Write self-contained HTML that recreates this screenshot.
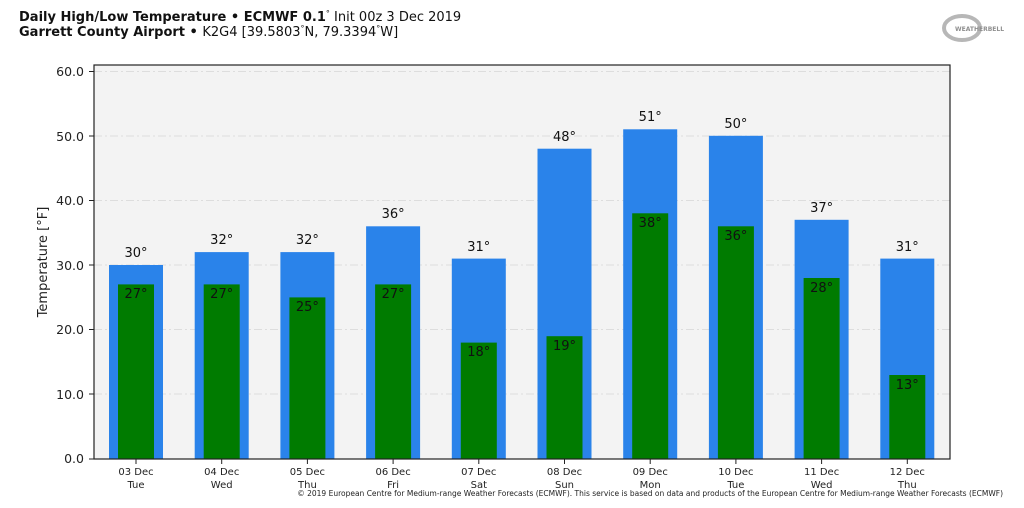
<!DOCTYPE html>
<html><head><style>body{margin:0;background:#fff}svg{display:block;font-family:"DejaVu Sans","Liberation Sans",sans-serif}</style></head><body>
<svg width="1024" height="508" viewBox="0 0 1024 508" xmlns="http://www.w3.org/2000/svg">
<text x="19" y="21" font-size="13" fill="#111"><tspan font-weight="bold">Daily High/Low Temperature • ECMWF 0.1</tspan><tspan font-size="8" dy="-5">°</tspan><tspan dy="5"> Init 00z 3 Dec 2019</tspan></text>
<text x="19" y="36" font-size="13" fill="#111"><tspan font-weight="bold">Garrett County Airport • </tspan>K2G4 [39.5803<tspan font-size="8" dy="-5">°</tspan><tspan dy="5">N, 79.3394</tspan><tspan font-size="8" dy="-5">°</tspan><tspan dy="5">W]</tspan></text>
<g opacity="0.6"><ellipse cx="962" cy="28" rx="18" ry="12" fill="none" stroke="#888" stroke-width="4"/><text x="955" y="31" font-size="6" fill="#444" font-weight="bold">WEATHERBELL</text></g>
<rect x="94" y="65" width="856" height="394" fill="#f3f3f3"/>
<g stroke="#ddd" stroke-dasharray="8,3,2,3" stroke-width="1">
<line x1="94" x2="950" y1="71.5" y2="71.5"/><line x1="94" x2="950" y1="136" y2="136"/><line x1="94" x2="950" y1="200.5" y2="200.5"/><line x1="94" x2="950" y1="265" y2="265"/><line x1="94" x2="950" y1="329.5" y2="329.5"/><line x1="94" x2="950" y1="394" y2="394"/></g>
<g fill="#2a83ea">
<rect x="109" y="265" width="54" height="194"/>
<rect x="194.7" y="252.1" width="54" height="206.9"/>
<rect x="280.4" y="252.1" width="54" height="206.9"/>
<rect x="366.1" y="226.3" width="54" height="232.7"/>
<rect x="451.8" y="258.6" width="54" height="200.4"/>
<rect x="537.5" y="148.7" width="54" height="310.3"/>
<rect x="623.2" y="129.3" width="54" height="329.7"/>
<rect x="708.9" y="135.8" width="54" height="323.2"/>
<rect x="794.6" y="219.8" width="54" height="239.2"/>
<rect x="880.3" y="258.6" width="54" height="200.4"/>
</g>
<g fill="#007b00">
<rect x="118" y="284.4" width="36" height="174.6"/>
<rect x="203.7" y="284.4" width="36" height="174.6"/>
<rect x="289.4" y="297.4" width="36" height="161.6"/>
<rect x="375.1" y="284.4" width="36" height="174.6"/>
<rect x="460.8" y="342.6" width="36" height="116.4"/>
<rect x="546.5" y="336.2" width="36" height="122.8"/>
<rect x="632.2" y="213.3" width="36" height="245.7"/>
<rect x="717.9" y="226.3" width="36" height="232.7"/>
<rect x="803.6" y="278" width="36" height="181"/>
<rect x="889.3" y="375" width="36" height="84"/>
</g>
<g font-size="13" text-anchor="middle" fill="#111">
<text x="136" y="257">30°</text><text x="221.7" y="244">32°</text><text x="307.4" y="244">32°</text><text x="393.1" y="218">36°</text><text x="478.8" y="251">31°</text><text x="564.5" y="141">48°</text><text x="650.2" y="121">51°</text><text x="735.9" y="128">50°</text><text x="821.6" y="212">37°</text><text x="907.3" y="251">31°</text>
<text x="136" y="298">27°</text><text x="221.7" y="298">27°</text><text x="307.4" y="311">25°</text><text x="393.1" y="298">27°</text><text x="478.8" y="356">18°</text><text x="564.5" y="350">19°</text><text x="650.2" y="227">38°</text><text x="735.9" y="240">36°</text><text x="821.6" y="292">28°</text><text x="907.3" y="389">13°</text>
</g>
<rect x="94" y="65" width="856" height="394" fill="none" stroke="#222" stroke-width="1.2"/>
<g font-size="12.5" fill="#222" text-anchor="end">
<text x="84" y="76">60.0</text><text x="84" y="141">50.0</text><text x="84" y="205">40.0</text><text x="84" y="270">30.0</text><text x="84" y="334">20.0</text><text x="84" y="399">10.0</text><text x="84" y="463">0.0</text></g>
<g stroke="#222"><line x1="89" x2="94" y1="71.5" y2="71.5"/><line x1="89" x2="94" y1="136" y2="136"/><line x1="89" x2="94" y1="200.5" y2="200.5"/><line x1="89" x2="94" y1="265" y2="265"/><line x1="89" x2="94" y1="329.5" y2="329.5"/><line x1="89" x2="94" y1="394" y2="394"/><line x1="89" x2="94" y1="459" y2="459"/>
<line x1="136" x2="136" y1="459" y2="464"/><line x1="221.7" x2="221.7" y1="459" y2="464"/><line x1="307.4" x2="307.4" y1="459" y2="464"/><line x1="393.1" x2="393.1" y1="459" y2="464"/><line x1="478.8" x2="478.8" y1="459" y2="464"/><line x1="564.5" x2="564.5" y1="459" y2="464"/><line x1="650.2" x2="650.2" y1="459" y2="464"/><line x1="735.9" x2="735.9" y1="459" y2="464"/><line x1="821.6" x2="821.6" y1="459" y2="464"/><line x1="907.3" x2="907.3" y1="459" y2="464"/></g>
<g font-size="10" text-anchor="middle" fill="#222">
<text x="136" y="475">03 Dec</text><text x="221.7" y="475">04 Dec</text><text x="307.4" y="475">05 Dec</text><text x="393.1" y="475">06 Dec</text><text x="478.8" y="475">07 Dec</text><text x="564.5" y="475">08 Dec</text><text x="650.2" y="475">09 Dec</text><text x="735.9" y="475">10 Dec</text><text x="821.6" y="475">11 Dec</text><text x="907.3" y="475">12 Dec</text>
<text x="136" y="488">Tue</text><text x="221.7" y="488">Wed</text><text x="307.4" y="488">Thu</text><text x="393.1" y="488">Fri</text><text x="478.8" y="488">Sat</text><text x="564.5" y="488">Sun</text><text x="650.2" y="488">Mon</text><text x="735.9" y="488">Tue</text><text x="821.6" y="488">Wed</text><text x="907.3" y="488">Thu</text>
</g>
<text transform="translate(47,262) rotate(-90)" font-size="13" fill="#222" text-anchor="middle">Temperature [°F]</text>
<text x="1003" y="496" font-size="7.5" fill="#222" text-anchor="end">© 2019 European Centre for Medium-range Weather Forecasts (ECMWF). This service is based on data and products of the European Centre for Medium-range Weather Forecasts (ECMWF)</text>
</svg>
</body></html>
